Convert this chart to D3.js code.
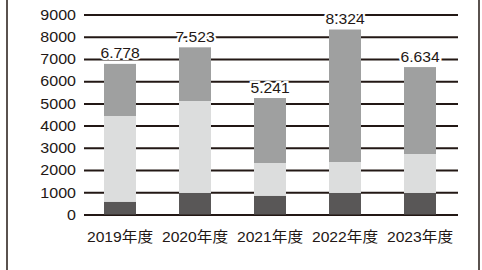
<!DOCTYPE html>
<html>
<head>
<meta charset="utf-8">
<script src="https://cdn.jsdelivr.net/npm/d3@7"></script>
<style>
  html, body { margin: 0; padding: 0; background: #fff; }
  svg { display: block; }
  text { font-family: "Liberation Sans", Arial, "Noto Sans CJK JP", sans-serif; fill: #231815; }
</style>
</head>
<body>
<script>
const categories = ["2019年度", "2020年度", "2021年度", "2022年度", "2023年度"];
const seriesBottom = [576, 968, 846, 968, 968];
const seriesMiddle = [3857, 4140, 1472, 1395, 1755];
const seriesTop = [2345, 2415, 2923, 5961, 3911];
const totals = [6778, 7523, 5241, 8324, 6634];
const yTicks = [0, 1000, 2000, 3000, 4000, 5000, 6000, 7000, 8000, 9000];
const seriesKeys = ["bottom", "middle", "top"];
const seriesColors = ["#595757", "#dcdddd", "#9fa0a0"];

const W = 482, H = 270;
const svg = d3.select("body").append("svg").attr("width", W).attr("height", H);

const rows = categories.map((c, i) => ({
  cat: c, bottom: seriesBottom[i], middle: seriesMiddle[i], top: seriesTop[i], total: totals[i]
}));

const x = d3.scaleBand().domain(categories).range([82.5, 457.5])
  .paddingInner(1 - 32 / 75).paddingOuter((1 - 32 / 75) / 2);
const y = d3.scaleLinear().domain([0, 9000]).range([214.5, 14.5]);

// frame lines
svg.append("line").attr("x1", 7).attr("x2", 7).attr("y1", 0).attr("y2", H)
  .attr("stroke", "#231815").attr("stroke-width", 1.5);
svg.append("line").attr("x1", 479).attr("x2", 479).attr("y1", 0).attr("y2", H)
  .attr("stroke", "#231815").attr("stroke-width", 1.5);

// y axis + gridlines
const yAxis = d3.axisLeft(y).tickValues(yTicks).tickFormat(d3.format("d"))
  .tickSizeInner(-(458 - 84)).tickSizeOuter(0).tickPadding(8);
const gy = svg.append("g").attr("transform", "translate(84,0)").call(yAxis);
gy.select(".domain").remove();
gy.selectAll(".tick line").attr("stroke", "#231815").attr("stroke-width", 2);
gy.selectAll(".tick text").attr("font-size", 15).attr("fill", "#231815")
  .style("font-family", "'Liberation Sans', Arial, sans-serif")
  .attr("transform", "scale(1.07,1)")
  .attr("x", -8 / 1.07);

// stacked bars
const stack = d3.stack().keys(seriesKeys)(rows);
svg.append("g").selectAll("g").data(stack).join("g")
  .attr("fill", (d, i) => seriesColors[i])
  .selectAll("rect").data(d => d).join("rect")
  .attr("x", d => x(d.data.cat))
  .attr("width", x.bandwidth())
  .attr("y", d => y(d[1]))
  .attr("height", d => y(d[0]) - y(d[1]));

// total labels
const fmt = d3.formatLocale({ decimal: ",", thousands: ".", grouping: [3], currency: ["", ""] }).format(",d");
svg.append("g").selectAll("text").data(rows).join("text")
  .attr("transform", d => `translate(${x(d.cat) + x.bandwidth() / 2},${y(d.total) - 5.5}) scale(1.08,1)`)
  .attr("text-anchor", "middle")
  .attr("font-size", 14.5)
  .attr("stroke", "#fff").attr("stroke-width", 4).attr("paint-order", "stroke")
  .text(d => fmt(d.total));

// x labels
svg.append("g").selectAll("text").data(categories).join("text")
  .attr("transform", d => `translate(${x(d) + x.bandwidth() / 2},241.5) scale(1.08,1)`)
  .attr("text-anchor", "middle")
  .attr("font-size", 14.5)
  .text(d => d);
</script>
</body>
</html>
